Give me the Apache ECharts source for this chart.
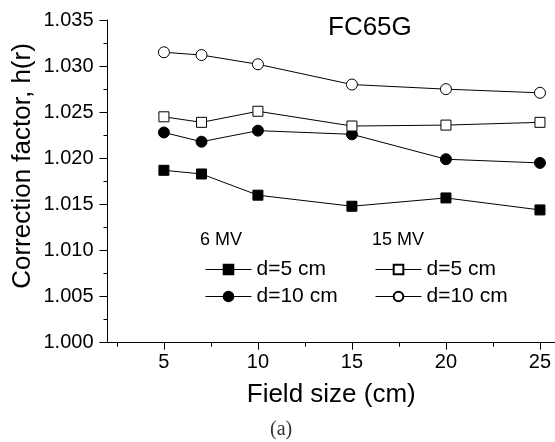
<!DOCTYPE html>
<html>
<head>
<meta charset="utf-8">
<script src="https://cdn.jsdelivr.net/npm/echarts@6/dist/echarts.min.js"></script>
<style>
  html, body { margin: 0; padding: 0; background: #fff; }
  #chart { width: 555px; height: 442px; }
</style>
</head>
<body>
<div id="chart"></div>
<script>
// Field sizes (cm)
const fieldSizes = [5, 7, 10, 15, 20, 25];

// Correction factor h(r)
const mv6d5 = [1.0187, 1.0183, 1.0160, 1.0148, 1.0157, 1.0144];
const mv6d10 = [1.0228, 1.0218, 1.0230, 1.0226, 1.0199, 1.0195];
const mv15d5 = [1.0245, 1.0239, 1.0251, 1.0235, 1.0236, 1.0239];
const mv15d10 = [1.0315, 1.0312, 1.0302, 1.0280, 1.0275, 1.0271];

const xMajorTicks = [5, 10, 15, 20, 25];
const xMinorTicks = [2.5, 7.5, 12.5, 17.5, 22.5];

const FONT = 'Liberation Sans, Arial, sans-serif';

const pairs = (ys) => fieldSizes.map((x, i) => [x, ys[i]]);

function makeSeries(name, ys, symbol, filled) {
    return {
        name: name,
        type: 'line',
        data: pairs(ys),
        symbol: symbol,
        symbolSize: symbol === 'rect' ? 10 : 11,
        showSymbol: true,
        lineStyle: { color: '#000', width: 1 },
        itemStyle: {
            color: filled ? '#000' : '#fff',
            borderColor: '#000',
            borderWidth: 1
        },
        emphasis: { disabled: true },
        animation: false
    };
}

const chart = echarts.init(document.getElementById('chart'), null, { renderer: 'canvas' });

const legendBase = {
    orient: 'vertical',
    itemWidth: 46,
    itemHeight: 12,
    itemGap: 6,
    selectedMode: false,
    lineStyle: { width: 1, color: '#000' },
    formatter: (name) => name.replace(/^\d+ MV /, ''),
    textStyle: { fontFamily: FONT, fontSize: 21, color: '#000' }
};

chart.setOption({
    animation: false,
    title: {
        text: 'FC65G',
        left: 328,
        top: 15,
        padding: 0,
        textStyle: { fontFamily: FONT, fontSize: 26, fontWeight: 'normal', color: '#000' }
    },
    grid: { left: 107.5, right: 0, top: 20, bottom: 99.3, containLabel: false },
    legend: [
        Object.assign({}, legendBase, { left: 200, top: 254, data: ['6 MV d=5 cm', '6 MV d=10 cm'] }),
        Object.assign({}, legendBase, { left: 370, top: 254, data: ['15 MV d=5 cm', '15 MV d=10 cm'] })
    ],
    xAxis: [
        {
            type: 'value',
            min: 2,
            max: 25.8,
            name: 'Field size (cm)',
            nameLocation: 'middle',
            nameGap: 39,
            nameTextStyle: { fontFamily: FONT, fontSize: 26, color: '#000' },
            axisLine: { show: true, lineStyle: { color: '#000', width: 1 } },
            axisTick: { show: true, length: 7, customValues: xMajorTicks, lineStyle: { color: '#000' } },
            axisLabel: { customValues: xMajorTicks, margin: 10, fontFamily: FONT, fontSize: 20, color: '#000' },
            splitLine: { show: false }
        },
        {
            type: 'value',
            position: 'bottom',
            min: 2,
            max: 25.8,
            axisLine: { show: false },
            axisTick: { show: true, length: 4, customValues: xMinorTicks, lineStyle: { color: '#000' } },
            axisLabel: { show: false },
            splitLine: { show: false }
        }
    ],
    yAxis: {
        type: 'value',
        min: 1.0,
        max: 1.035,
        interval: 0.005,
        axisLine: { show: true, lineStyle: { color: '#000', width: 1 } },
        axisTick: { show: true, length: 8, lineStyle: { color: '#000' } },
        minorTick: { show: true, splitNumber: 2, length: 4, lineStyle: { color: '#000' } },
        axisLabel: {
            margin: 14,
            fontFamily: FONT,
            fontSize: 20,
            color: '#000',
            formatter: (v) => v.toFixed(3)
        },
        splitLine: { show: false }
    },
    graphic: [
        {
            type: 'text',
            x: 23,
            y: 166,
            rotation: Math.PI / 2,
            style: {
                text: 'Correction factor, h(r)',
                font: '26px ' + FONT,
                fill: '#000',
                align: 'center',
                verticalAlign: 'middle'
            }
        },
        {
            type: 'text',
            left: 200,
            top: 231,
            style: { text: '6 MV', font: '18px ' + FONT, fill: '#000' }
        },
        {
            type: 'text',
            left: 372,
            top: 231,
            style: { text: '15 MV', font: '18px ' + FONT, fill: '#000' }
        },
        {
            type: 'text',
            left: 270,
            top: 420,
            style: { text: '(a)', font: '20px Liberation Serif, Times New Roman, serif', fill: '#333' }
        }
    ],
    series: [
        makeSeries('6 MV d=5 cm', mv6d5, 'rect', true),
        makeSeries('6 MV d=10 cm', mv6d10, 'circle', true),
        makeSeries('15 MV d=5 cm', mv15d5, 'rect', false),
        makeSeries('15 MV d=10 cm', mv15d10, 'circle', false)
    ]
});
</script>
</body>
</html>
